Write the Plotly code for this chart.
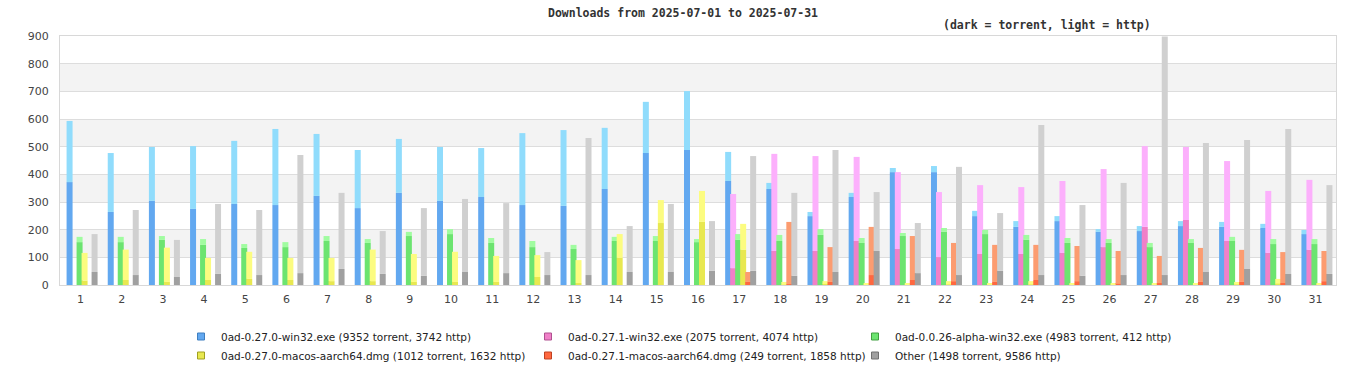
import plotly.graph_objects as go

days = list(range(1, 32))
tick_labels = [str(d) for d in days]

series_names = [
    "0ad-0.27.0-win32.exe (9352 torrent, 3742 http)",
    "0ad-0.27.1-win32.exe (2075 torrent, 4074 http)",
    "0ad-0.0.26-alpha-win32.exe (4983 torrent, 412 http)",
    "0ad-0.27.0-macos-aarch64.dmg (1012 torrent, 1632 http)",
    "0ad-0.27.1-macos-aarch64.dmg (249 torrent, 1858 http)",
    "Other (1498 torrent, 9586 http)",
]

# torrent (dark) and total (torrent+http) per day
win270_torrent = [372, 264, 304, 275, 293, 289, 322, 278, 333, 304, 318, 289, 286, 347, 477, 488,
                  376, 347, 249, 318, 408, 408, 249, 210, 231, 192, 195, 213, 210, 206, 184]
win270_total = [593, 477, 499, 502, 521, 564, 546, 488, 528, 499, 495, 549, 560, 568, 662, 701,
                481, 369, 264, 333, 423, 430, 268, 231, 249, 202, 213, 231, 228, 221, 199]

win271_torrent = [0, 0, 0, 0, 0, 0, 0, 0, 0, 0, 0, 0, 0, 0, 0, 0,
                  61, 123, 123, 159, 130, 101, 112, 112, 116, 137, 210, 235, 159, 116, 127]
win271_total = [0, 0, 0, 0, 0, 0, 0, 0, 0, 0, 0, 0, 0, 0, 0, 0,
                329, 474, 466, 463, 408, 336, 361, 354, 376, 419, 502, 499, 448, 340, 380]

alpha26_torrent = [155, 155, 163, 145, 134, 137, 159, 152, 177, 184, 152, 137, 130, 159, 159, 155,
                   163, 159, 181, 152, 177, 192, 184, 163, 152, 152, 137, 152, 159, 148, 148]
alpha26_total = [174, 174, 177, 166, 148, 155, 177, 166, 192, 202, 170, 159, 145, 174, 177, 166,
                 184, 181, 202, 170, 188, 206, 199, 181, 170, 166, 152, 166, 174, 166, 166]

mac270_torrent = [16, 18, 11, 18, 22, 18, 14, 14, 11, 11, 11, 29, 7, 98, 224, 228,
                  127, 1, 4, 1, 1, 2, 1, 2, 1, 1, 1, 1, 2, 5, 1]
mac270_total = [116, 128, 135, 98, 120, 98, 98, 128, 112, 120, 105, 108, 90, 184, 307, 340,
                221, 11, 14, 7, 6, 14, 7, 14, 7, 7, 7, 7, 11, 22, 7]

mac271_torrent = [0, 0, 0, 0, 0, 0, 0, 0, 0, 0, 0, 0, 0, 0, 0, 0,
                  11, 3, 11, 36, 18, 14, 11, 18, 14, 4, 7, 11, 11, 7, 14]
mac271_total = [0, 0, 0, 0, 0, 0, 0, 0, 0, 0, 0, 0, 0, 0, 0, 0,
                47, 228, 137, 210, 177, 152, 145, 145, 141, 123, 105, 134, 127, 119, 123]

other_torrent = [47, 36, 29, 40, 36, 43, 58, 40, 33, 47, 43, 36, 36, 47, 47, 51,
                 51, 33, 47, 123, 43, 36, 51, 36, 33, 36, 36, 47, 58, 40, 40]
other_total = [184, 271, 163, 293, 271, 470, 333, 195, 278, 311, 296, 119, 531, 213, 293, 231,
               466, 333, 488, 336, 224, 427, 260, 578, 289, 369, 898, 513, 524, 564, 361]

torrent_series = [win270_torrent, win271_torrent, alpha26_torrent, mac270_torrent, mac271_torrent, other_torrent]
total_series = [win270_total, win271_total, alpha26_total, mac270_total, mac271_total, other_total]

dark_colors = ["#62A8F0", "#F080C8", "#6CE470", "#E8E850", "#FF6840", "#A0A0A0"]
light_colors = ["#90DCFC", "#FCB0FC", "#A0FCA0", "#FCFC80", "#FC9C70", "#D0D0D0"]
legend_border = ["#3f7fc0", "#b05090", "#40a040", "#a0a020", "#c04020", "#707070"]

# geometry (x axis units: 1 unit per day)
px_per_unit = 1276 / 31
bar_w = 6 / px_per_unit
bar_step = 5 / px_per_unit
first_off = -14 / px_per_unit

fig = go.Figure()
for i in range(6):
    tor = torrent_series[i]
    tot = total_series[i]
    http = [t - r for t, r in zip(tot, tor)]
    off = first_off + i * bar_step
    fig.add_trace(go.Bar(x=days, y=tor, offset=off, width=bar_w,
                         marker=dict(color=dark_colors[i], line=dict(width=0)),
                         showlegend=False, hoverinfo="skip"))
    fig.add_trace(go.Bar(x=days, y=http, base=tor, offset=off, width=bar_w,
                         marker=dict(color=light_colors[i], line=dict(width=0)),
                         showlegend=False, hoverinfo="skip"))

legend_ids = ["legend", "legend2", "legend3", "legend", "legend2", "legend3"]
for i in range(6):
    fig.add_trace(go.Scatter(x=[None], y=[None], mode="markers", name=series_names[i],
                             marker=dict(symbol="square", size=7, color=dark_colors[i],
                                         line=dict(color=legend_border[i], width=1)),
                             legend=legend_ids[i], showlegend=True))

# alternating background bands
shapes = []
for lo in [100, 300, 500, 700]:
    shapes.append(dict(type="rect", xref="paper", yref="y", x0=0, x1=1, y0=lo, y1=lo + 100,
                       fillcolor="#F3F3F3", line=dict(width=0), layer="below"))

leg_font = dict(family="DejaVu Sans", size=10.5, color="#222222")
leg_common = dict(orientation="v", yanchor="top", xanchor="left", font=leg_font,
                  xref="container", yref="container",
                  bgcolor="rgba(0,0,0,0)", borderwidth=0, tracegroupgap=0, itemwidth=30)

W, H = 1366, 380
leg_y = 1 - 322 / H
fig.update_layout(
    width=W, height=H,
    margin=dict(l=60, r=30, t=36, b=95, autoexpand=False),
    barmode="overlay",
    plot_bgcolor="#FFFFFF", paper_bgcolor="#FFFFFF",
    shapes=shapes,
    title=dict(text="Downloads from 2025-07-01 to 2025-07-31", xref="container", x=0.5,
               xanchor="center", y=1 - 13 / H, yanchor="middle",
               font=dict(family="DejaVu Sans Mono", size=11.5, color="#333333", weight="bold")),
    annotations=[dict(text="(dark = torrent, light = http)", xref="paper", yref="paper",
                      x=(1047 - 60) / 1276, y=1 + (36 - 25) / 249, xanchor="center", yanchor="middle",
                      showarrow=False,
                      font=dict(family="DejaVu Sans Mono", size=11.5, color="#333333", weight="bold"))],
    xaxis=dict(range=[0.5, 31.5], tickmode="array", tickvals=days, ticktext=tick_labels,
               showgrid=False, zeroline=False, showline=True, mirror=True, linecolor="#D8D8D8",
               linewidth=1, ticks="", tickfont=dict(family="DejaVu Sans", size=11, color="#444444"),
               ticklabelstandoff=4),
    yaxis=dict(range=[0, 900], dtick=100, tick0=0, showgrid=True, gridcolor="#DDDDDD", gridwidth=1,
               zeroline=False, showline=True, mirror=True, linecolor="#D8D8D8", linewidth=1,
               ticks="", tickfont=dict(family="DejaVu Sans", size=11, color="#444444"),
               ticklabelstandoff=8),
    legend=dict(x=181 / W, y=leg_y, **leg_common),
    legend2=dict(x=528 / W, y=leg_y, **leg_common),
    legend3=dict(x=855 / W, y=leg_y, **leg_common),
    showlegend=True,
)

fig.write_html("out.html", config={"displayModeBar": False},
               post_script="document.body.style.margin='0';document.body.style.padding='0';")
